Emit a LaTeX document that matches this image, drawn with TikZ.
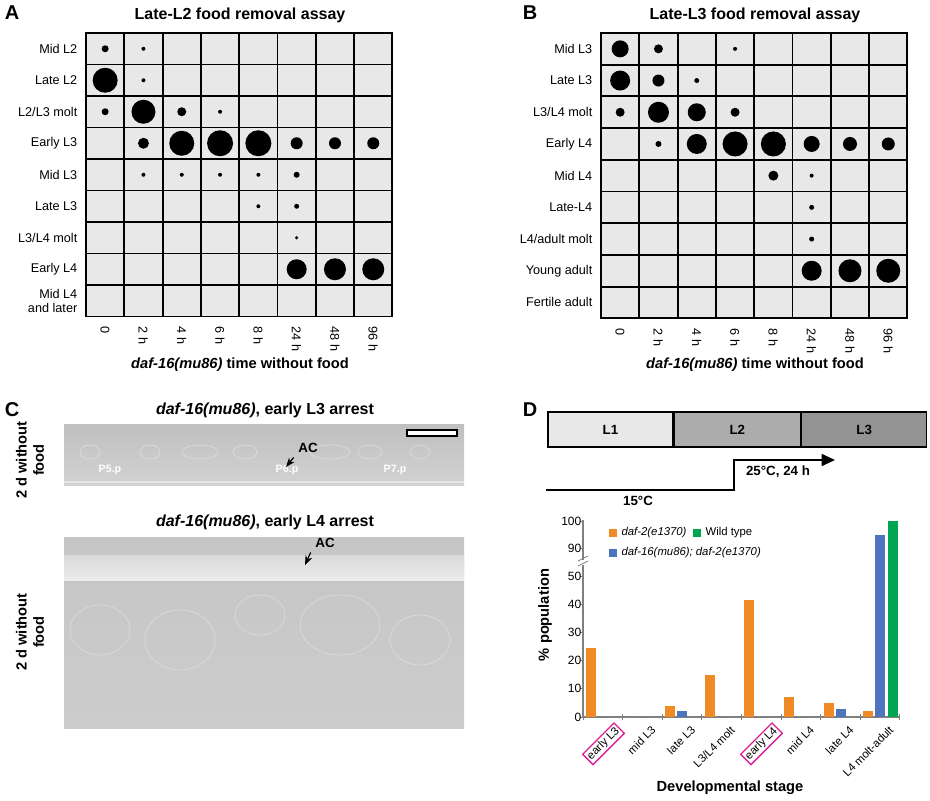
\documentclass[tikz,border=0pt]{standalone}
\usepackage{fontspec}
\setmainfont{Liberation Sans}
\usetikzlibrary{arrows.meta,positioning,calc}
\definecolor{cellgray}{RGB}{232,232,232}
\definecolor{barorange}{RGB}{240,138,36}
\definecolor{barblue}{RGB}{79,116,190}
\definecolor{bargreen}{RGB}{0,166,81}
\definecolor{boxmagenta}{RGB}{220,30,150}
\tikzset{
  >=Stealth,
  cell/.style={draw,line width=1.4pt,fill=cellgray},
  dot/.style={fill=black},
  rowlab/.style={anchor=east,align=right,font=\fontsize{9.5}{10.5}\selectfont},
  collab/.style={rotate=-90,anchor=west,font=\fontsize{9.5}{10}\selectfont},
  paneltitle/.style={font=\bfseries\fontsize{12}{14}\selectfont},
  letter/.style={font=\bfseries\fontsize{15}{17}\selectfont},
  bar/.style={draw=none},
  stagelab/.style={rotate=45,anchor=north east,font=\fontsize{8.5}{9}\selectfont,inner sep=1.5pt},
}
\begin{document}
\begin{tikzpicture}[x=0.75pt,y=-0.75pt]
\useasboundingbox (0,0) rectangle (930,800);

% panel A
\node[letter] (la) at (12,13) {A};
\node[paneltitle] (ta) at (240,15) {Late-L2 food removal assay};
\foreach \c in {0,...,7}
  \foreach \r in {0,...,8}
    \draw[cell] ({86+\c*38.3},{33+\r*31.5}) rectangle ++(38.3,31.5);
\foreach \lab [count=\r from 0] in {Mid L2,Late L2,L2/L3 molt,Early L3,Mid L3,Late L3,L3/L4 molt,Early L4,{Mid L4\\and later}}
  \node[rowlab] (ra\r) at (82,{48.75+\r*31.5}) {\lab};
\foreach \lab [count=\c from 0] in {0,2 h,4 h,6 h,8 h,24 h,48 h,96 h}
  \node[collab] (ca\c) at ({105+\c*38.3},322) {\lab};
\foreach \r/\c/\s in {0/0/3.5,0/1/2,1/0/12.5,1/1/2,2/0/3.5,2/1/12,2/2/4.5,2/3/2,
  3/1/5.5,3/2/12.5,3/3/13,3/4/13,3/5/6,3/6/6,3/7/6,
  4/1/2,4/2/2,4/3/2,4/4/2,4/5/3,5/4/2,5/5/2.5,6/5/1.8,7/5/10,7/6/11,7/7/11}
  \fill[dot] ({105.15+\c*38.3},{48.75+\r*31.5}) circle (\s);
\node[font=\bfseries\fontsize{11}{13}\selectfont] (xa) at (240,365) {\textit{daf-16(mu86)} time without food};

% panel B
\node[letter] (lb) at (530,13) {B};
\node[paneltitle] (tb) at (755,15) {Late-L3 food removal assay};
\foreach \c in {0,...,7}
  \foreach \r in {0,...,8}
    \draw[cell] ({601+\c*38.3},{33+\r*31.7}) rectangle ++(38.3,31.7);
\foreach \lab [count=\r from 0] in {Mid L3,Late L3,L3/L4 molt,Early L4,Mid L4,Late-L4,L4/adult molt,Young adult,Fertile adult}
  \node[rowlab] (rb\r) at (597,{48.85+\r*31.7}) {\lab};
\foreach \lab [count=\c from 0] in {0,2 h,4 h,6 h,8 h,24 h,48 h,96 h}
  \node[collab] (cb\c) at ({620+\c*38.3},324) {\lab};
\foreach \r/\c/\s in {0/0/8.5,0/1/4.5,0/3/2,1/0/10,1/1/6,1/2/2.5,2/0/4.5,2/1/10.5,2/2/9,2/3/4.5,
  3/1/3,3/2/10,3/3/12.5,3/4/12.5,3/5/8,3/6/7,3/7/6.5,
  4/4/5,4/5/2,5/5/2.5,6/5/2.5,7/5/10,7/6/11.5,7/7/12}
  \fill[dot] ({620.15+\c*38.3},{48.85+\r*31.7}) circle (\s);
\node[font=\bfseries\fontsize{11}{13}\selectfont] (xb) at (755,365) {\textit{daf-16(mu86)} time without food};

% panel C
\node[letter] (lc) at (12,410) {C};
\node[paneltitle] (tc1) at (265,410) {\textit{daf-16(mu86)}, early L3 arrest};
\shade[top color=gray!50,bottom color=gray!35] (64,424) rectangle (464,485);
\foreach \x/\w in {90/10,150/10,200/18,245/12,330/20,370/12,420/10}
  \draw[white!70!gray,line width=0.6pt] (\x,452) ellipse ({\w} and 7);
\draw[white!80!gray,line width=2pt] (64,482) -- (464,482);
\draw[fill=white,line width=0.8pt] (407,430) rectangle (457,436);
\node[font=\bfseries\fontsize{8}{9}\selectfont,white] (p5) at (110,470) {P5.p};
\node[font=\bfseries\fontsize{8}{9}\selectfont,white] (p6) at (287,470) {P6.p};
\node[font=\bfseries\fontsize{8}{9}\selectfont,white] (p7) at (395,470) {P7.p};
\node[font=\bfseries\fontsize{10}{12}\selectfont] (ac1) at (308,448) {AC};
\coordinate (ac1t) at (286,467);
\draw[->,line width=0.9pt] (ac1.south west) -- (ac1t);
\node[rotate=90,align=center,font=\bfseries\fontsize{11}{13}\selectfont] (wf1) at (30,460) {2 d without\\food};

\node[paneltitle] (tc2) at (265,522) {\textit{daf-16(mu86)}, early L4 arrest};
\shade[top color=gray!45,bottom color=gray!40] (64,537) rectangle (464,728);
\shade[top color=gray!30,bottom color=white!85!gray] (64,555) rectangle (464,580);
\foreach \x/\y/\w/\h in {100/630/30/25,180/640/35/30,260/615/25/20,340/625/40/30,420/640/30/25}
  \draw[white!70!gray,line width=0.6pt] (\x,\y) ellipse ({\w} and {\h});
\node[font=\bfseries\fontsize{10}{12}\selectfont] (ac2) at (325,543) {AC};
\coordinate (ac2t) at (305,565);
\draw[->,line width=0.9pt] (ac2.south west) -- (ac2t);
\node[rotate=90,align=center,font=\bfseries\fontsize{11}{13}\selectfont] (wf2) at (30,632) {2 d without\\food};

% panel D
\node[letter] (ld) at (530,410) {D};
\node[draw,line width=1pt,fill=cellgray,minimum width=125*0.75pt,minimum height=35*0.75pt,inner sep=0pt,font=\bfseries\fontsize{10}{11}\selectfont] (s1) at (610.5,429.5) {L1};
\node[draw,line width=1pt,fill=gray!65,minimum width=126*0.75pt,minimum height=35*0.75pt,inner sep=0pt,font=\bfseries\fontsize{10}{11}\selectfont,right=0pt of s1] (s2) {L2};
\node[draw,line width=1pt,fill=gray!85,minimum width=125*0.75pt,minimum height=35*0.75pt,inner sep=0pt,font=\bfseries\fontsize{10}{11}\selectfont,right=0pt of s2] (s3) {L3};
\coordinate (ts) at (546,490);
\coordinate (tu) at (734,490);
\coordinate (te) at (835,460);
\draw[line width=1.3pt,-{Triangle[length=10pt,width=9pt]}] (ts) -- (tu) |- (te);
\node[font=\bfseries\fontsize{10}{11}\selectfont] (hot) at (778,472) {25°C, 24 h};
\node[font=\bfseries\fontsize{10}{11}\selectfont] (cold) at (638,501) {15°C};

% chart axes
\coordinate (o) at (583,717);
\coordinate (xe) at (900,717);
\coordinate (ya) at (583,560);
\coordinate (yb) at (583,565);
\coordinate (yt) at (583,520);
\draw[gray,line width=0.8pt] (o) -- (xe);
\draw[gray,line width=0.8pt] (o) -- (yb) (ya) -- (yt);
\draw[gray,line width=0.6pt] (578,566) -- (588,561) (578,561) -- (588,556);
\foreach \v in {0,10,...,50}
  \draw[gray,line width=0.6pt] (580,{717-\v*2.82}) -- (583,{717-\v*2.82}) node[left,black,font=\fontsize{9}{10}\selectfont,inner sep=1pt] {\v};
\foreach \v/\y in {90/548,100/521}
  \draw[gray,line width=0.6pt] (580,\y) -- (583,\y) node[left,black,font=\fontsize{9}{10}\selectfont,inner sep=1pt] {\v};
\foreach \i in {0,...,8}
  \draw[gray,line width=0.6pt] ({583+\i*39.6},714) -- ({583+\i*39.6},720);
\node[rotate=90,font=\bfseries\fontsize{11}{13}\selectfont] (yl) at (545,615) {\% population};

% bars
\foreach \v [count=\i from 0] in {24.5,0,4,15,41.5,7,5,2}
  \fill[barorange] ({586+\i*39.6},717) rectangle ++(10,{-\v*2.82});
\foreach \v [count=\i from 0] in {0,0,2,0,0,0,3}
  \fill[barblue] ({598+\i*39.6},717) rectangle ++(10,{-\v*2.82});
\fill[barblue] (875,717) rectangle (885,534.5);
\fill[bargreen] (888,717) rectangle (898,521);

% legend
\fill[barorange] (609,529) rectangle (617,537);
\node[anchor=west,font=\itshape\fontsize{8.5}{9}\selectfont,inner sep=1pt] (lg1) at (620,533) {daf-2(e1370)};
\fill[bargreen] (693,529) rectangle (701,537);
\node[anchor=west,font=\fontsize{8.5}{9}\selectfont,inner sep=1pt] (lg2) at (704,533) {Wild type};
\fill[barblue] (609,549) rectangle (617,557);
\node[anchor=west,font=\itshape\fontsize{8.5}{9}\selectfont,inner sep=1pt] (lg3) at (620,553) {daf-16(mu86); daf-2(e1370)};

% stage labels
\foreach \lab [count=\i from 0] in {mid L3,late L3,L3/L4 molt,,mid L4,late L4,L4 molt-adult}
  \node[stagelab] (st\i) at ({611+39.6+\i*39.6},722) {\lab};
\node[stagelab,draw=boxmagenta,line width=1pt] (e3) at (614,722) {early L3};
\node[stagelab,draw=boxmagenta,line width=1pt] (e4) at (772,722) {early L4};
\node[font=\bfseries\fontsize{11}{13}\selectfont] (xd) at (730,788) {Developmental stage};
\end{tikzpicture}
\end{document}
